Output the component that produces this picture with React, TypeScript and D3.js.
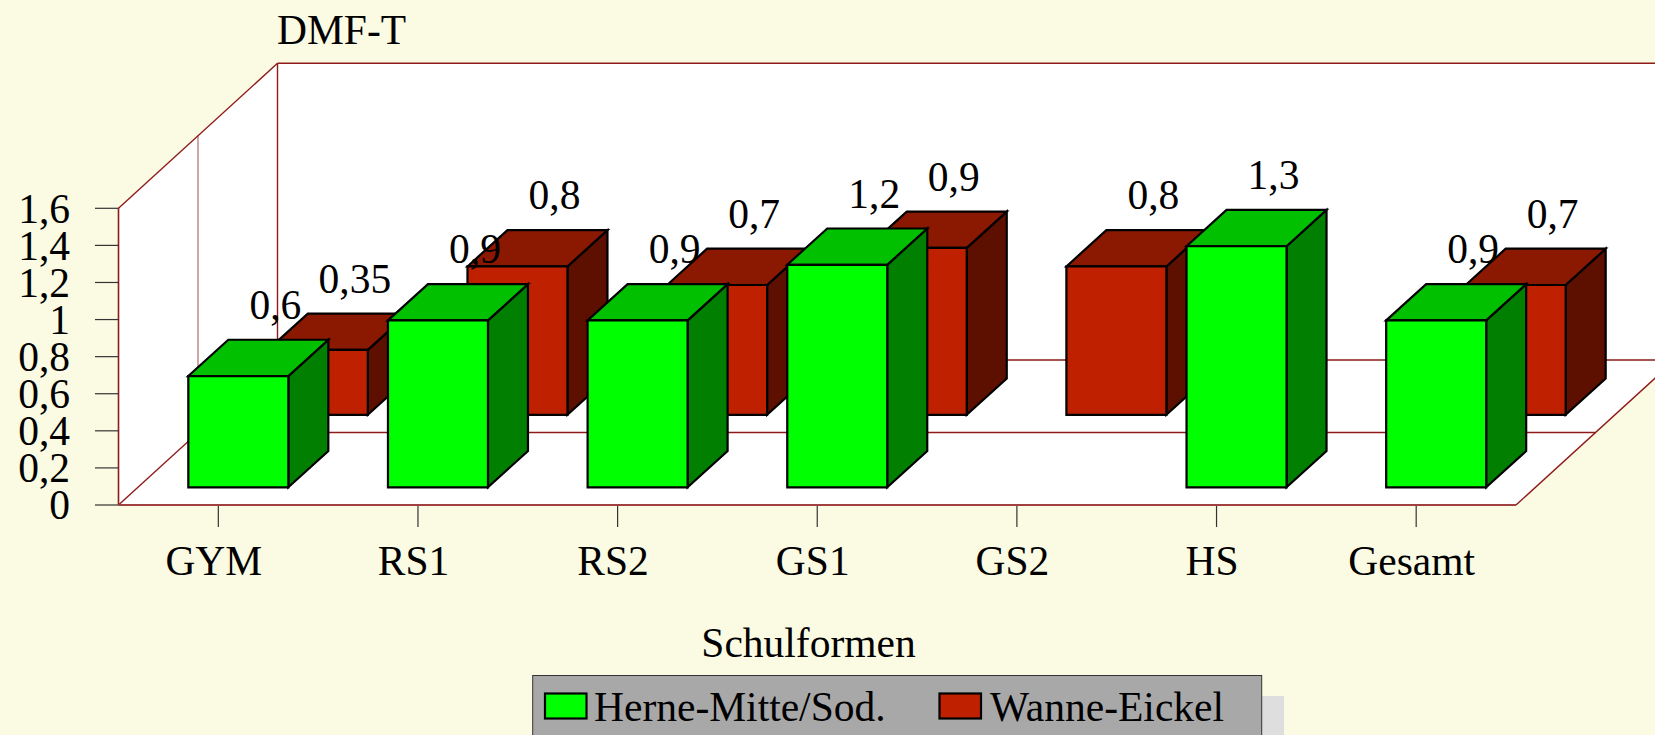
import React from "react";
import * as d3 from "d3";

const categories = ["GYM", "RS1", "RS2", "GS1", "GS2", "HS", "Gesamt"];
const herneValues: (number | null)[] = [0.6, 0.9, 0.9, 1.2, null, 1.3, 0.9];
const wanneValues: (number | null)[] = [0.35, 0.8, 0.7, 0.9, 0.8, null, 0.7];
const herneLabels = ["0,6", "0,9", "0,9", "1,2", "", "1,3", "0,9"];
const wanneLabels = ["0,35", "0,8", "0,7", "0,9", "0,8", "", "0,7"];
const yTicks = [0, 0.2, 0.4, 0.6, 0.8, 1, 1.2, 1.4, 1.6];
const yTickLabels = ["0", "0,2", "0,4", "0,6", "0,8", "1", "1,2", "1,4", "1,6"];
const seriesNames = ["Herne-Mitte/Sod.", "Wanne-Eickel"];

const W = 1655, H = 735;
const FONT = "'Liberation Serif', 'Times New Roman', serif";
const FS = 41.5;
const left = 118.5, right = 1516, floorY = 505, topY = 208.3;
const depthX = 159, depthY = 145;
const slotX = depthX / 2, slotY = depthY / 2;
const barDX = 40, barDY = 36.3, barFrontX = 20, barFrontY = 17.7;
const barW = 100;

const x = d3.scaleBand<string>().domain(categories).range([left, right]);
const y = d3.scaleLinear().domain([0, 1.6]).range([floorY, topY]);
const heightOf = (v: number) => floorY - y(v);

const poly = (pts: [number, number][]) => (d3.line()(pts) as string) + "Z";

const wallLine = "#8e1a1a";
const palette = {
  green: { front: "#00ff00", top: "#00c000", side: "#007f00" },
  red: { front: "#bf2000", top: "#8b1800", side: "#5e1000" },
};

function Bar({ cat, value, slot, c }: { cat: string; value: number; slot: number; c: typeof palette.green }) {
  const cx = x(cat)! + x.bandwidth() / 2 + barFrontX + slot * slotX;
  const b = floorY - barFrontY - slot * slotY;
  const l = cx - barW / 2, r = cx + barW / 2, t = b - heightOf(value);
  const common = { stroke: "#000", strokeWidth: 2.2, strokeLinejoin: "miter" as const };
  return (
    <g {...common}>
      <path d={poly([[r, b], [r + barDX, b - barDY], [r + barDX, t - barDY], [r, t]])} fill={c.side} />
      <path d={poly([[l, t], [l + barDX, t - barDY], [r + barDX, t - barDY], [r, t]])} fill={c.top} />
      <path d={poly([[l, b], [l, t], [r, t], [r, b]])} fill={c.front} />
    </g>
  );
}

function BarLabel({ cat, value, slot, text }: { cat: string; value: number; slot: number; text: string }) {
  const cx = x(cat)! + x.bandwidth() / 2 + barFrontX + slot * slotX;
  const b = floorY - barFrontY - slot * slotY;
  const t = b - heightOf(value);
  return (
    <text x={cx + barDX - 3} y={t - barDY - 20.8} textAnchor="middle">{text}</text>
  );
}

export default function App() {
  return (
    <svg
      width={W}
      height={H}
      viewBox={`0 0 ${W} ${H}`}
      style={{ position: "fixed", left: 0, top: 0, display: "block" }}
      fontFamily={FONT}
      fontSize={FS}
      fill="#000"
    >
      <rect x={0} y={0} width={W} height={H} fill="#fbfbe3" />

      {/* walls and floor */}
      <path d={poly([[left, floorY], [left, topY], [left + depthX, topY - depthY], [left + depthX, floorY - depthY]])} fill="#fff" />
      <path d={poly([[left + depthX, topY - depthY], [W + 5, topY - depthY], [W + 5, floorY - depthY], [left + depthX, floorY - depthY]])} fill="#fff" />
      <path d={poly([[left, floorY], [right, floorY], [right + depthX, floorY - depthY], [left + depthX, floorY - depthY]])} fill="#fff" />

      <g stroke={wallLine} fill="none" strokeWidth={1.4}>
        <path d={`M${left + slotX},${topY - slotY}V${floorY - slotY}`} stroke="#c08080" />
        <path d={`M${left + slotX},${floorY - slotY}H${right + slotX}`} />
        <path d={`M${left + depthX},${topY - depthY}V${floorY - depthY}`} />
        <path d={`M${left + depthX},${topY - depthY}H${W + 5}`} />
        <path d={`M${left + depthX},${floorY - depthY}H${W + 5}`} />
        <path d={`M${left},${topY}L${left + depthX},${topY - depthY}`} />
        <path d={`M${left},${floorY}L${left + depthX},${floorY - depthY}`} />
        <path d={`M${right},${floorY}L${right + depthX},${floorY - depthY}`} />
        <path d={`M${left},${floorY}V${topY}`} strokeWidth={1.6} />
        <path d={`M${left},${floorY}H${right}`} strokeWidth={2} stroke="#a04040" />
      </g>

      {/* axes */}
      <g stroke="#333" strokeWidth={1.2}>
        {yTicks.map((t) => (
          <line key={t} x1={95} x2={left} y1={y(t)} y2={y(t)} />
        ))}
        {categories.map((c) => {
          const tx = x(c)! + x.bandwidth() / 2;
          return <line key={c} x1={tx} x2={tx} y1={floorY + 1} y2={floorY + 22} />;
        })}
      </g>
      {yTicks.map((t, i) => (
        <text key={t} x={70} y={y(t) + 14.4} textAnchor="end">{yTickLabels[i]}</text>
      ))}
      {categories.map((c) => (
        <text key={c} x={x(c)! + x.bandwidth() / 2 - 4.5} y={575} textAnchor="middle">{c}</text>
      ))}

      {/* bars: back row first */}
      {categories.map((c, i) =>
        wanneValues[i] != null ? <Bar key={c} cat={c} value={wanneValues[i] as number} slot={1} c={palette.red} /> : null
      )}
      {categories.map((c, i) =>
        herneValues[i] != null ? <Bar key={c} cat={c} value={herneValues[i] as number} slot={0} c={palette.green} /> : null
      )}

      {/* value labels */}
      {categories.map((c, i) =>
        wanneValues[i] != null ? <BarLabel key={c} cat={c} value={wanneValues[i] as number} slot={1} text={wanneLabels[i]} /> : null
      )}
      {categories.map((c, i) =>
        herneValues[i] != null ? <BarLabel key={c} cat={c} value={herneValues[i] as number} slot={0} text={herneLabels[i]} /> : null
      )}

      {/* titles */}
      <text x={277} y={44}>DMF-T</text>
      <text x={808.5} y={657.3} textAnchor="middle">Schulformen</text>

      {/* legend */}
      <rect x={1262} y={696} width={22} height={H - 696} fill="#dedede" />
      <rect x={532.7} y={675.5} width={729} height={H} fill="#a8a8a8" stroke="#333" strokeWidth={1} />
      <rect x={545} y={693.5} width={41.5} height={25} fill={palette.green.front} stroke="#000" strokeWidth={2.2} />
      <text x={594} y={720.7}>{seriesNames[0]}</text>
      <rect x={939.5} y={693.5} width={41.5} height={25} fill={palette.red.front} stroke="#000" strokeWidth={2.2} />
      <text x={990} y={720.7}>{seriesNames[1]}</text>
    </svg>
  );
}
